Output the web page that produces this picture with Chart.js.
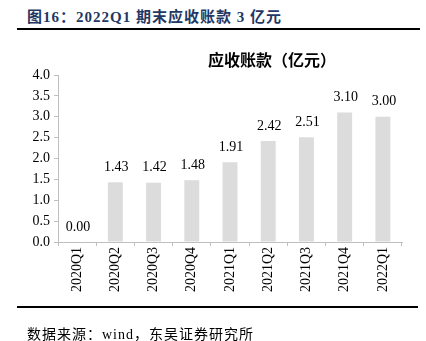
<!DOCTYPE html>
<html>
<head>
<meta charset="utf-8">
<script src="https://cdn.jsdelivr.net/npm/chart.js@4"></script>
<style>
  body { margin: 0; background: #fff; width: 426px; height: 341px; position: relative; overflow: hidden; }
  #chart { position: absolute; left: 0; top: 0; }
  .head { position: absolute; left: 27px; top: 5px; font: bold 15px "Liberation Serif", "Noto Sans CJK SC", serif; color: #1f3864; white-space: nowrap; letter-spacing: 1px; }
  .head .cn { font-family: "Noto Sans CJK SC", sans-serif; }
  .rule { position: absolute; left: 17px; width: 403px; background: #000; }
  .src { position: absolute; left: 27px; top: 323px; font: 14px "Liberation Serif", "Noto Sans CJK SC", serif; color: #000; white-space: nowrap; letter-spacing: 1px; }
  .src .cn { font-family: "Noto Sans CJK SC", sans-serif; }
</style>
</head>
<body>
<div class="head"><span class="cn">图</span>16<span class="cn">：</span>2022Q1 <span class="cn">期末应收账款</span> 3 <span class="cn">亿元</span></div>
<div class="rule" style="top:28px;height:2px;"></div>
<canvas id="chart" width="426" height="341"></canvas>
<div class="rule" style="top:306px;height:2px;width:401px;"></div>
<div class="src"><span class="cn">数据来源：</span>wind<span class="cn">，东吴证券研究所</span></div>
<script>
const quarters = ['2020Q1', '2020Q2', '2020Q3', '2020Q4', '2021Q1', '2021Q2', '2021Q3', '2021Q4', '2022Q1'];
const receivables = [0.00, 1.43, 1.42, 1.48, 1.91, 2.42, 2.51, 3.10, 3.00];
const chartTitle = '应收账款（亿元）';

const serif = '"Liberation Serif", "Times New Roman", serif';

// value labels above the bars, plus the off-centre chart title
const barLabels = {
    id: 'barLabels',
    afterDatasetsDraw(chart) {
        const ctx = chart.ctx;
        const meta = chart.getDatasetMeta(0);
        ctx.save();
        ctx.font = '14px ' + serif;
        ctx.fillStyle = '#000';
        ctx.textAlign = 'center';
        ctx.textBaseline = 'middle';
        meta.data.forEach((bar, i) => {
            ctx.fillText(receivables[i].toFixed(2), bar.x + 1, bar.y - 15);
        });
        ctx.font = 'bold 16px "Noto Sans CJK SC", sans-serif';
        ctx.fillText(chartTitle, 272, 60);
        ctx.restore();
    }
};

new Chart(document.getElementById('chart').getContext('2d'), {
    type: 'bar',
    data: {
        labels: quarters,
        datasets: [{
            data: receivables,
            backgroundColor: '#dcdcdc',
            categoryPercentage: 0.39,
            barPercentage: 1
        }]
    },
    options: {
        responsive: false,
        animation: false,
        layout: { padding: { top: 75, left: 0, right: 24, bottom: 39 } },
        plugins: {
            legend: { display: false },
            tooltip: { enabled: false },
            title: { display: false }
        },
        scales: {
            x: {
                grid: { display: true, drawOnChartArea: false, offset: true, tickLength: 4, color: '#bfbfbf' },
                border: { color: '#bfbfbf' },
                ticks: { color: '#000', font: { family: serif, size: 14 }, minRotation: 90, maxRotation: 90, padding: 1 },
                afterFit: (scale) => { scale.height = 60; }
            },
            y: {
                min: 0,
                max: 4,
                grid: { display: true, drawOnChartArea: false, tickLength: 4, color: '#bfbfbf' },
                border: { color: '#bfbfbf' },
                ticks: {
                    stepSize: 0.5,
                    color: '#000',
                    padding: 4,
                    font: { family: serif, size: 14 },
                    callback: (v) => v.toFixed(1)
                },
                afterFit: (scale) => { scale.width = 58; }
            }
        }
    },
    plugins: [barLabels]
});
</script>
</body>
</html>
